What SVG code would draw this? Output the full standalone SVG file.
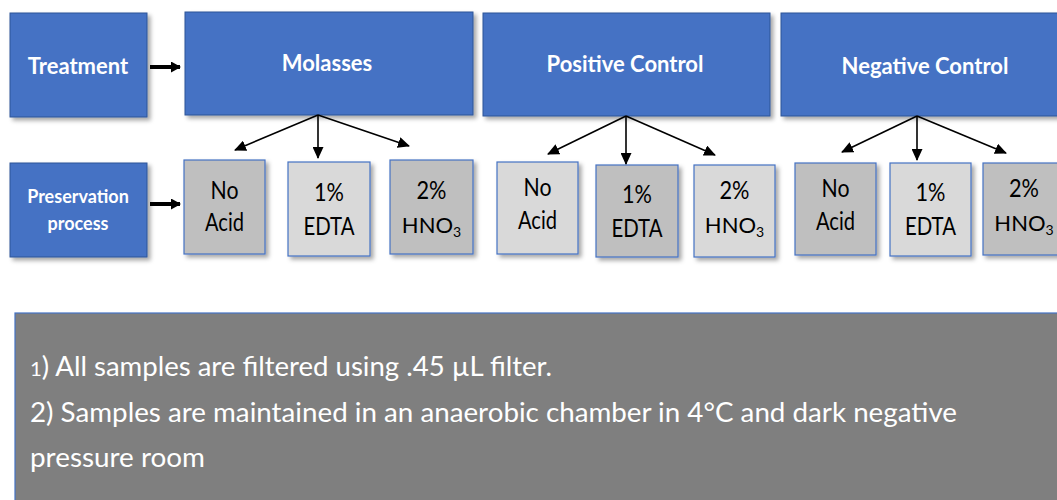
<svg xmlns="http://www.w3.org/2000/svg" width="1057" height="500" viewBox="0 0 1057 500">
<defs>
<filter id="sh" x="-10%" y="-10%" width="130%" height="130%">
<feDropShadow dx="3" dy="3" stdDeviation="2" flood-color="#000" flood-opacity="0.35"/>
</filter>
<marker id="ah" markerWidth="12" markerHeight="11" refX="11" refY="5.5" orient="auto" markerUnits="userSpaceOnUse" viewBox="0 0 12 11">
<path d="M0,0 L12,5.5 L0,11 z" fill="#000"/>
</marker>
<marker id="ah2" markerWidth="10" markerHeight="11" refX="9" refY="5.5" orient="auto" markerUnits="userSpaceOnUse" viewBox="0 0 10 11">
<path d="M0,0 L10,5.5 L0,11 z" fill="#000"/>
</marker>
</defs>
<style>
.blue{fill:#4472c4;stroke:#2f5597;stroke-width:1;filter:url(#sh)}
.dk{fill:#bfbfbf;stroke:#4472c4;stroke-width:1.2;filter:url(#sh)}
.lt{fill:#d9d9d9;stroke:#4472c4;stroke-width:1.2;filter:url(#sh)}
.bt{font-family:Lato,"Open Sans",sans-serif;font-weight:bold;fill:#fff;text-anchor:middle}
.gt{font-family:Lato,"Open Sans",sans-serif;font-size:25px;fill:#000;text-anchor:middle}
.hn{font-family:Lato,"Open Sans",sans-serif;font-size:22px;fill:#000;text-anchor:middle}
.note{font-family:Lato,"Open Sans",sans-serif;font-size:27px;fill:#fff}
.c{stroke:#000;stroke-width:1.6;fill:none;marker-end:url(#ah)}
.t{stroke:#000;stroke-width:4;fill:none;marker-end:url(#ah2)}
</style>

<g id="treatment">
<rect class="blue" x="10" y="13" width="137" height="104"/>
<text class="bt" x="78" y="74" font-size="22">Treatment</text>
</g>
<g id="molasses">
<rect class="blue" x="185" y="12" width="288" height="103"/>
<text class="bt" x="327" y="71" font-size="22">Molasses</text>
</g>
<g id="positive-control">
<rect class="blue" x="483" y="13" width="287" height="103"/>
<text class="bt" x="625" y="72" font-size="22">Positive Control</text>
</g>
<g id="negative-control">
<rect class="blue" x="781" y="13" width="285" height="103"/>
<text class="bt" x="925" y="74" font-size="22">Negative Control</text>
</g>
<g id="preservation">
<rect class="blue" x="10" y="163" width="137" height="94"/>
<text class="bt" x="78" y="203" font-size="18">Preservation</text>
<text class="bt" x="78" y="230" font-size="18">process</text>
</g>

<g id="m-noacid">
<rect class="dk" x="184" y="160" width="81" height="94"/>
<text class="gt" x="224.5" y="199" textLength="28" lengthAdjust="spacingAndGlyphs">No</text>
<text class="gt" x="224.5" y="231" textLength="39" lengthAdjust="spacingAndGlyphs">Acid</text>
</g>
<g id="m-edta">
<rect class="lt" x="288" y="162" width="82" height="94"/>
<text class="gt" x="329" y="201" textLength="30" lengthAdjust="spacingAndGlyphs">1%</text>
<text class="gt" x="329" y="235" textLength="51" lengthAdjust="spacingAndGlyphs">EDTA</text>
</g>
<g id="m-hno3">
<rect class="dk" x="390" y="160" width="83" height="94"/>
<text class="gt" x="431.5" y="199" textLength="30" lengthAdjust="spacingAndGlyphs">2%</text>
<text class="hn" x="431.5" y="233">HNO<tspan font-size="14" dy="4">3</tspan></text>
</g>

<g id="p-noacid">
<rect class="lt" x="497" y="162" width="81" height="92"/>
<text class="gt" x="537.5" y="196" textLength="28" lengthAdjust="spacingAndGlyphs">No</text>
<text class="gt" x="537.5" y="229" textLength="39" lengthAdjust="spacingAndGlyphs">Acid</text>
</g>
<g id="p-edta">
<rect class="dk" x="596" y="165" width="82" height="92"/>
<text class="gt" x="637" y="203" textLength="30" lengthAdjust="spacingAndGlyphs">1%</text>
<text class="gt" x="637" y="237" textLength="51" lengthAdjust="spacingAndGlyphs">EDTA</text>
</g>
<g id="p-hno3">
<rect class="lt" x="694" y="165" width="81" height="92"/>
<text class="gt" x="734.5" y="199" textLength="30" lengthAdjust="spacingAndGlyphs">2%</text>
<text class="hn" x="734.5" y="233">HNO<tspan font-size="14" dy="4">3</tspan></text>
</g>

<g id="n-noacid">
<rect class="dk" x="795" y="163" width="81" height="92"/>
<text class="gt" x="835.5" y="197" textLength="28" lengthAdjust="spacingAndGlyphs">No</text>
<text class="gt" x="835.5" y="230" textLength="39" lengthAdjust="spacingAndGlyphs">Acid</text>
</g>
<g id="n-edta">
<rect class="lt" x="890" y="163" width="81" height="93"/>
<text class="gt" x="930.5" y="201" textLength="30" lengthAdjust="spacingAndGlyphs">1%</text>
<text class="gt" x="930.5" y="235" textLength="51" lengthAdjust="spacingAndGlyphs">EDTA</text>
</g>
<g id="n-hno3">
<rect class="dk" x="983" y="163" width="85" height="92"/>
<text class="gt" x="1024" y="197" textLength="30" lengthAdjust="spacingAndGlyphs">2%</text>
<text class="hn" x="1024" y="231">HNO<tspan font-size="14" dy="4">3</tspan></text>
</g>

<g id="connectors">
<line class="t" x1="150" y1="67" x2="180" y2="67"/>
<line class="t" x1="150" y1="204" x2="180" y2="204"/>
<line class="c" x1="318" y1="115" x2="235" y2="150"/>
<line class="c" x1="318" y1="115" x2="318" y2="158"/>
<line class="c" x1="318" y1="115" x2="409" y2="146"/>
<line class="c" x1="626" y1="116" x2="548" y2="154"/>
<line class="c" x1="626" y1="116" x2="626" y2="164"/>
<line class="c" x1="626" y1="116" x2="715" y2="155"/>
<line class="c" x1="917" y1="116" x2="842" y2="152"/>
<line class="c" x1="917" y1="116" x2="917" y2="160"/>
<line class="c" x1="917" y1="116" x2="1006" y2="153"/>
</g>

<g id="notes">
<rect x="15" y="313" width="1060" height="200" fill="#7f7f7f" stroke="#4472c4" stroke-width="1.2"/>
<text class="note" x="30" y="376" textLength="522" lengthAdjust="spacingAndGlyphs"><tspan font-size="20">1</tspan>) All samples are filtered using .45 µL filter.</text>
<text class="note" x="30" y="422" textLength="927" lengthAdjust="spacingAndGlyphs">2) Samples are maintained in an anaerobic chamber in 4°C and dark negative</text>
<text class="note" x="30" y="467" textLength="175" lengthAdjust="spacingAndGlyphs">pressure room</text>
</g>
</svg>
